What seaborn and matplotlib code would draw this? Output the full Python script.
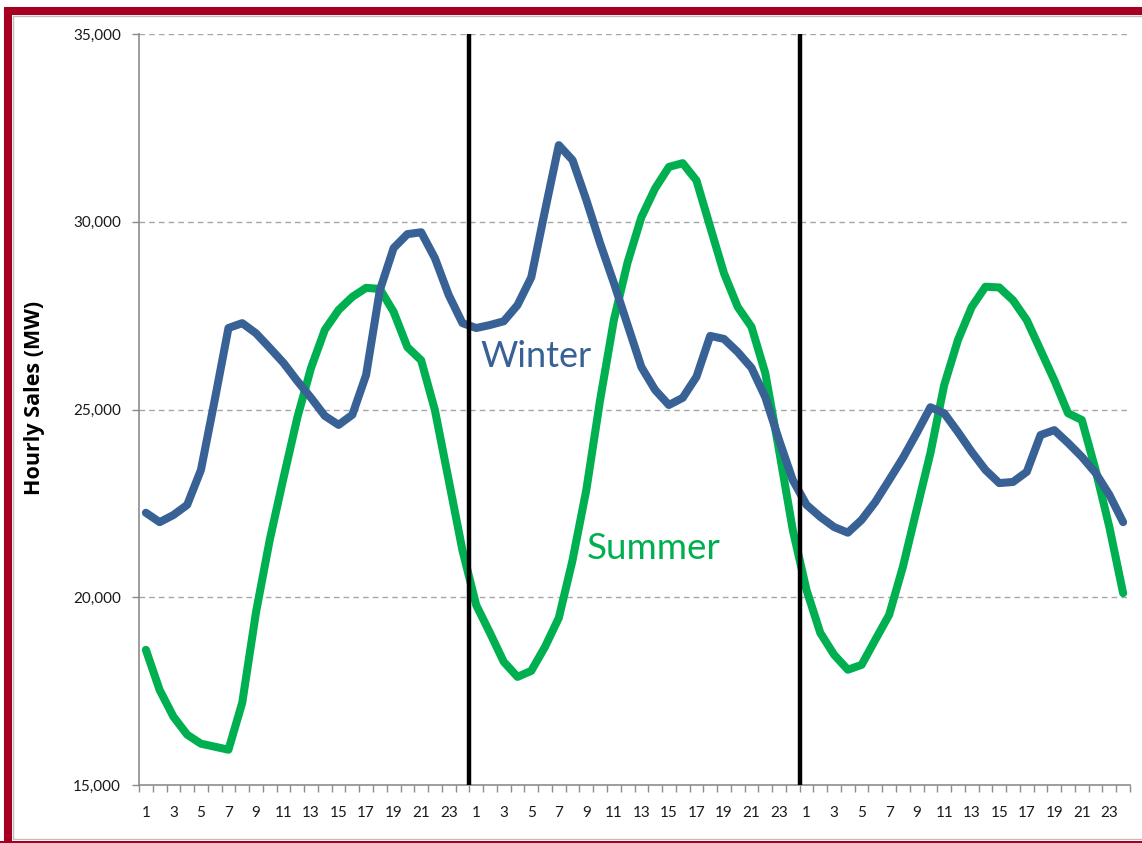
import matplotlib
matplotlib.use("Agg")
import matplotlib.pyplot as plt
import matplotlib.patches as mpatches
import seaborn as sns
import numpy as np
import pandas as pd

# horas do dia, 3 dias seguidos
hours = list(range(1, 25)) * 3

winter = [22250, 22000, 22190, 22460, 23390, 25250, 27170, 27300, 27030, 26640, 26240, 25760,
          25310, 24830, 24590, 24860, 25920, 28180, 29300, 29670, 29720, 29030, 28050, 27300,
          27170, 27250, 27350, 27780, 28520, 30300, 32040, 31640, 30580, 29430, 28370, 27250,
          26130, 25520, 25120, 25310, 25870, 26960, 26880, 26530, 26110, 25330, 24190, 23120,
          22460, 22140, 21870, 21720, 22060, 22540, 23120, 23710, 24370, 25060, 24900, 24400,
          23870, 23390, 23040, 23070, 23340, 24320, 24450, 24110, 23740, 23310, 22730, 22000]

summer = [18600, 17530, 16820, 16340, 16100, 16020, 15940, 17190, 19600, 21530, 23180, 24780,
          26110, 27120, 27650, 28000, 28240, 28210, 27600, 26660, 26310, 24980, 23120, 21250,
          19790, 19050, 18280, 17880, 18040, 18680, 19450, 20990, 22860, 25250, 27380, 28920,
          30120, 30890, 31460, 31560, 31100, 29860, 28630, 27730, 27200, 25970, 23920, 21790,
          20190, 19050, 18470, 18070, 18200, 18870, 19530, 20810, 22330, 23840, 25650, 26850,
          27730, 28270, 28250, 27910, 27380, 26580, 25780, 24900, 24720, 23390, 21870, 20110]

y_ticks = [15000, 20000, 25000, 30000, 35000]

BLUE = "#386195"
GREEN = "#00B050"
GRAY = "#8C8C8C"

n = len(winter)
df = pd.DataFrame({
    "pos": list(range(n)) * 2,
    "mw": winter + summer,
    "season": ["Winter"] * n + ["Summer"] * n,
})

sns.set_theme(style="white")
plt.rcParams["font.family"] = ["Lato", "DejaVu Sans"]

W, H = 1142, 843
fig = plt.figure(figsize=(W / 100, H / 100), dpi=100)
ax = fig.add_axes([139 / W, 1 - 785 / H, 991 / W, 751 / H])

sns.lineplot(data=df, x="pos", y="mw", hue="season", palette={"Winter": BLUE, "Summer": GREEN},
             hue_order=["Summer", "Winter"], linewidth=5.8, sort=False, legend=False, ax=ax)

ax.set_xlim(-0.5, n - 0.5)
ax.set_ylim(y_ticks[0], y_ticks[-1])

# separadores entre dias
for b in range(24, n, 24):
    ax.vlines(b - 0.5, y_ticks[0], y_ticks[-1], color="black", lw=3.2, zorder=5)

# grade horizontal tracejada
for v in y_ticks[1:]:
    ax.axhline(v, color="#A6A6A6", lw=1.0, ls=(0, (4, 3)), zorder=0)

ax.set_yticks(y_ticks)
ax.set_yticklabels([f"{v:,}" for v in y_ticks], fontsize=11, color="#1a1a1a")

label_pos = [i for i in range(n) if hours[i] % 2 == 1]
ax.set_xticks(label_pos)
ax.set_xticklabels([str(hours[i]) for i in label_pos], fontsize=11, color="#1a1a1a")
ax.set_xticks(np.arange(-0.5, n, 1), minor=True)
ax.tick_params(axis="x", which="major", length=0, pad=15)
ax.tick_params(axis="x", which="minor", length=5, width=1, color=GRAY, direction="out", bottom=True)
ax.tick_params(axis="y", which="major", length=5, width=1, color=GRAY, direction="out", pad=8, left=True)

for s in ["top", "right"]:
    ax.spines[s].set_visible(False)
for s in ["left", "bottom"]:
    ax.spines[s].set_color(GRAY)
    ax.spines[s].set_linewidth(1.2)

ax.set_xlabel("")
ax.set_ylabel("")
ax.grid(False)
fig.text(35 / W, 1 - 398 / H, "Hourly Sales (MW)", rotation=90, fontsize=15.5, fontweight="bold",
         family=["Open Sans", "DejaVu Sans"], color="black", ha="center", va="center")

ax.text(24.3, 26400, "Winter", color=BLUE, fontsize=26, va="center", ha="left")
ax.text(32.0, 21300, "Summer", color=GREEN, fontsize=26.5, va="center", ha="left")

# moldura vermelha (lado direito fica fora da imagem)
fig.patches.append(mpatches.Rectangle((8 / W, 1 - 846 / H), 1.05, (846 - 11) / H,
                                      transform=fig.transFigure, fill=False,
                                      edgecolor="#A50021", lw=5.8, zorder=10))
fig.patches.append(mpatches.Rectangle((13 / W, 1 - 839 / H), 1.05, (839 - 16) / H,
                                      transform=fig.transFigure, fill=False,
                                      edgecolor="#BFBFBF", lw=1, zorder=10))
fig.patches.append(mpatches.Rectangle((0, 0), 1, 2.5 / H, transform=fig.transFigure,
                                      facecolor="#A50021", edgecolor="none", zorder=10))

fig.savefig("out.png", dpi=100)
plt.close()
